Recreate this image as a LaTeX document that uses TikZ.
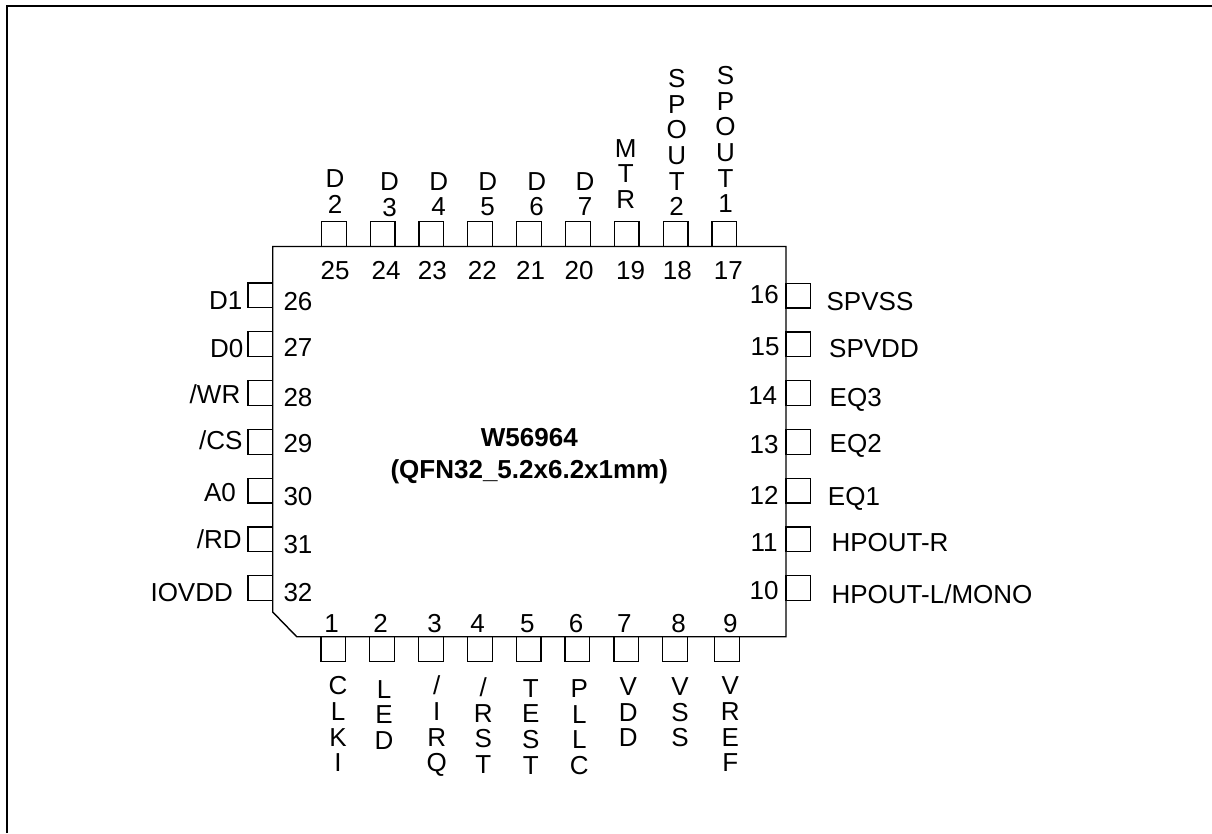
\documentclass[tikz,border=0pt]{standalone}
\usepackage{fontspec}
\setmainfont{Liberation Sans}
\tikzset{
  lbl/.style={anchor=south,inner sep=0pt,outer sep=0pt,text depth=0pt,align=center,font=\fontsize{26}{25.6}\selectfont},
  boldlbl/.style={lbl,font=\fontsize{26}{32}\selectfont\bfseries},
  padbox/.style={draw=black,line width=1.2pt,anchor=north west,inner sep=0pt,outer sep=0pt,minimum width=24.7pt,minimum height=24.7pt},
  chipline/.style={draw=black,line width=1.4pt,line join=miter},
  frameline/.style={draw=black,line width=2pt}
}
\begin{document}
\begin{tikzpicture}[x=1pt,y=-1pt]
\useasboundingbox (0,0) rectangle (1212,833);
\fill[white] (0,0) rectangle (1212,833);
\draw[frameline] (6.8,833) -- (6.8,5.8) -- (1212,5.8);
\draw[chipline] (272.7,246.5) -- (786,246.5) -- (786,636.7) -- (296.7,636.7) -- (272.7,612) -- cycle;
% top pads
\foreach \i/\xp in {25/321.7,24/370.3,23/419,22/467.7,21/516.7,20/565.7,19/614.3,18/663.3,17/712}
  \node[padbox] (p\i) at (\xp,221.6) {};
% bottom pads
\foreach \i/\xp in {1/321,2/369.7,3/418.7,4/467.7,5/516.3,6/565,7/614,8/662.7,9/714.7}
  \node[padbox] (p\i) at (\xp,636.7) {};
% left pads
\foreach \i/\yp in {26/283,27/331.8,28/380.6,29/429.4,30/478.2,31/527,32/575.7}
  \node[padbox] (p\i) at (248,\yp) {};
% right pads
\foreach \i/\yp in {16/283.2,15/332,14/380.7,13/429.4,12/478.2,11/527,10/575.7}
  \node[padbox] (p\i) at (786,\yp) {};
% centre
\node[boldlbl] (title) at (529.3,478.3) {W56964\\(QFN32\_5.2x6.2x1mm)};
% top labels
\node[lbl] (t25) at (335,213.3) {D\\2};
\node[lbl] (t24) at (389.5,216) {D\\3};
\node[lbl] (t23) at (438.7,215.7) {D\\4};
\node[lbl] (t22) at (487.7,215.7) {D\\5};
\node[lbl] (t21) at (536.7,215.7) {D\\6};
\node[lbl] (t20) at (585,215.7) {D\\7};
\node[lbl] (t19) at (625.7,208.3) {M\\T\\R};
\node[lbl] (t18) at (676.7,215.7) {S\\P\\O\\U\\T\\2};
\node[lbl] (t17) at (725.5,212.7) {S\\P\\O\\U\\T\\1};
\node[lbl] (n25) at (335,279) {25};
\node[lbl] (n24) at (386,279) {24};
\node[lbl] (n23) at (432.3,279) {23};
\node[lbl] (n22) at (482.3,279) {22};
\node[lbl] (n21) at (530.7,279) {21};
\node[lbl] (n20) at (579,279) {20};
\node[lbl] (n19) at (630.7,279) {19};
\node[lbl] (n18) at (677.3,279) {18};
\node[lbl] (n17) at (728.3,279) {17};
% bottom numbers
\node[lbl] (n1) at (331.7,632.7) {1};
\node[lbl] (n2) at (380.7,632.7) {2};
\node[lbl] (n3) at (434.7,632.7) {3};
\node[lbl] (n4) at (477.7,632.7) {4};
\node[lbl] (n5) at (527.3,632.7) {5};
\node[lbl] (n6) at (576,632.7) {6};
\node[lbl] (n7) at (624.3,632.7) {7};
\node[lbl] (n8) at (678.7,632.7) {8};
\node[lbl] (n9) at (730.3,632.7) {9};
% bottom labels
\node[lbl] (b1) at (338,771.7) {C\\L\\K\\I};
\node[lbl] (b2) at (384,749.3) {L\\E\\D};
\node[lbl] (b3) at (436.7,771.7) {/\\I\\R\\Q};
\node[lbl] (b4) at (483.3,773.5) {/\\R\\S\\T};
\node[lbl] (b5) at (530.7,774) {T\\E\\S\\T};
\node[lbl] (b6) at (579.3,774.5) {P\\L\\L\\C};
\node[lbl] (b7) at (628.3,746.7) {V\\D\\D};
\node[lbl] (b8) at (680,746.7) {V\\S\\S};
\node[lbl] (b9) at (730.3,771.7) {V\\R\\E\\F};
% left labels
\node[lbl] (l26) at (225.7,309.3) {D1};
\node[lbl] (l27) at (226.7,357.7) {D0};
\node[lbl] (l28) at (215,403.3) {/WR};
\node[lbl] (l29) at (220.7,449.3) {/CS};
\node[lbl] (l30) at (220,501.7) {A0};
\node[lbl] (l31) at (219.3,548.3) {/RD};
\node[lbl] (l32) at (191.7,601.7) {IOVDD};
\node[lbl] (n26) at (298,310.7) {26};
\node[lbl] (n27) at (298,356) {27};
\node[lbl] (n28) at (298,406.7) {28};
\node[lbl] (n29) at (298,452.7) {29};
\node[lbl] (n30) at (298,505) {30};
\node[lbl] (n31) at (298,553) {31};
\node[lbl] (n32) at (298,601.7) {32};
% right labels
\node[lbl] (n16) at (764.3,303.3) {16};
\node[lbl] (n15) at (765,355) {15};
\node[lbl] (n14) at (762.7,404.3) {14};
\node[lbl] (n13) at (764,453.3) {13};
\node[lbl] (n12) at (764,504.3) {12};
\node[lbl] (n11) at (764,551) {11};
\node[lbl] (n10) at (764,599.3) {10};
\node[lbl] (r16) at (870,310) {SPVSS};
\node[lbl] (r15) at (874,357.7) {SPVDD};
\node[lbl] (r14) at (855.7,406.7) {EQ3};
\node[lbl] (r13) at (855.7,452.7) {EQ2};
\node[lbl] (r12) at (854,505) {EQ1};
\node[lbl] (r11) at (890,551) {HPOUT-R};
\node[lbl] (r10) at (932,603.3) {HPOUT-L/MONO};
\end{tikzpicture}
\end{document}
